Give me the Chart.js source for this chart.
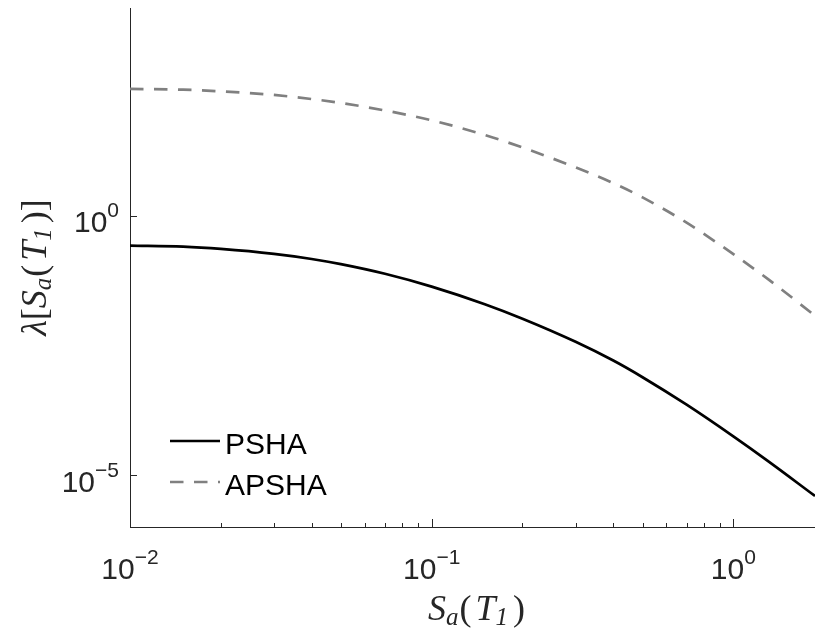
<!DOCTYPE html>
<html>
<head>
<meta charset="utf-8">
<script src="https://cdn.jsdelivr.net/npm/chart.js@4.4.1/dist/chart.umd.min.js"></script>
<style>
html, body { margin: 0; padding: 0; background: #fff; }
canvas { display: block; }
</style>
</head>
<body>
<canvas id="hazardChart" width="815" height="629"></canvas>
<script>
// spectral acceleration values (x) and annual rates for the two hazard curves
const saValues = [0.01, 0.015, 0.02, 0.03, 0.04, 0.05, 0.07, 0.1, 0.15, 0.2, 0.3, 0.4, 0.5, 0.7, 1, 1.3, 1.865];
const pshaRates = [0.264, 0.252, 0.228, 0.183, 0.146, 0.116, 0.0756, 0.0428, 0.0196, 0.0103, 0.0037, 0.00161, 7.69e-4, 2.27e-4, 5.57e-5, 1.88e-5, 3.96e-6];
const apshaRates = [276, 267, 248, 211, 176, 148, 106, 68.6, 35.7, 20.5, 8.49, 4.22, 2.24, 0.730, 0.181, 0.0603, 0.0118];
const seriesNames = ['PSHA', 'APSHA'];
const xTickExps = [-2, -1, 0];
const yTickExps = [0, -5];

const sans = '"Liberation Sans", Arial, Helvetica, sans-serif';
const serif = '"Liberation Serif", "Times New Roman", serif';
const axisColor = '#262626';

function toPoints(xs, ys) {
    return xs.map((v, i) => ({ x: v, y: ys[i] }));
}

// "10" with a raised exponent, like matlab tick labels
function drawPower(ctx, exp, x, baseline, align) {
    const expText = exp < 0 ? '\u2212' + (-exp) : String(exp);
    ctx.font = '30px ' + sans;
    const w1 = ctx.measureText('10').width;
    ctx.font = '21px ' + sans;
    const w2 = ctx.measureText(expText).width;
    const start = align === 'center' ? x - (w1 + w2) / 2 : x - (w1 + w2);
    ctx.textAlign = 'left';
    ctx.textBaseline = 'alphabetic';
    ctx.font = '30px ' + sans;
    ctx.fillText('10', start, baseline);
    ctx.font = '21px ' + sans;
    ctx.fillText(expText, start + w1, baseline - 15);
}

function pieceFont(p) {
    return (p.it ? 'italic ' : '') + p.size + 'px ' + serif;
}

// latex-ish label built from pieces, centred on cx
function drawMath(ctx, pieces, cx, baseline) {
    let total = 0;
    pieces.forEach(p => {
        ctx.font = pieceFont(p);
        p.w = ctx.measureText(p.t).width + (p.gap || 0);
        total += p.w;
    });
    let xx = cx - total / 2;
    ctx.textAlign = 'left';
    ctx.textBaseline = 'alphabetic';
    pieces.forEach(p => {
        ctx.font = pieceFont(p);
        ctx.fillText(p.t, xx, baseline + (p.dy || 0));
        xx += p.w;
    });
}

function saPieces() {
    return [
        { t: 'S', it: true, size: 36 },
        { t: 'a', it: true, size: 25, dy: 5, gap: 1 },
        { t: '(', size: 36, gap: 4 },
        { t: 'T', it: true, size: 36 },
        { t: '1', it: true, size: 25, dy: 5, gap: 5 },
        { t: ')', size: 36 }
    ];
}

const matlabAxes = {
    id: 'matlabAxes',
    afterDraw(chart) {
        const { ctx, chartArea: area, scales: { x, y } } = chart;
        ctx.save();

        // inward tick marks
        ctx.strokeStyle = axisColor;
        ctx.lineWidth = 1;
        ctx.beginPath();
        xTickExps.forEach(e => {
            for (let m = 1; m <= 9; m++) {
                const v = m * Math.pow(10, e);
                if (v < x.min - 1e-12 || v > x.max) continue;
                const px = Math.round(x.getPixelForValue(v)) + 0.5;
                const len = m === 1 ? 8 : 4;
                ctx.moveTo(px, area.bottom);
                ctx.lineTo(px, area.bottom - len);
            }
        });
        yTickExps.forEach(e => {
            const py = Math.round(y.getPixelForValue(Math.pow(10, e))) + 0.5;
            ctx.moveTo(area.left, py);
            ctx.lineTo(area.left + 7, py);
        });
        ctx.stroke();

        // tick labels
        ctx.fillStyle = axisColor;
        xTickExps.forEach(e => {
            drawPower(ctx, e, x.getPixelForValue(Math.pow(10, e)), area.bottom + 52, 'center');
        });
        yTickExps.forEach(e => {
            drawPower(ctx, e, area.left - 11, y.getPixelForValue(Math.pow(10, e)) + 16.5, 'right');
        });

        // axis titles
        drawMath(ctx, saPieces(), (area.left + area.right) / 2 + 4, area.bottom + 93);
        ctx.save();
        ctx.translate(46, (area.top + area.bottom) / 2);
        ctx.rotate(-Math.PI / 2);
        const yPieces = [{ t: '\u03bb', it: true, size: 36 }, { t: '[', size: 36 }]
            .concat(saPieces(), [{ t: ']', size: 36 }]);
        drawMath(ctx, yPieces, 0, 0);
        ctx.restore();

        // legend inside the axes, lower left
        const rows = [433, 474];
        chart.data.datasets.forEach((ds, i) => {
            const ly = area.top + rows[i];
            ctx.save();
            ctx.strokeStyle = ds.borderColor;
            ctx.lineWidth = ds.borderWidth;
            ctx.setLineDash(ds.borderDash || []);
            ctx.beginPath();
            ctx.moveTo(area.left + 40, ly);
            ctx.lineTo(area.left + 90, ly);
            ctx.stroke();
            ctx.restore();
            ctx.fillStyle = '#000';
            ctx.font = '30px ' + sans;
            ctx.textAlign = 'left';
            ctx.textBaseline = 'alphabetic';
            ctx.fillText(ds.label, area.left + 95, ly + 12.8);
        });

        ctx.restore();
    }
};

const ctx = document.getElementById('hazardChart').getContext('2d');
new Chart(ctx, {
    type: 'line',
    data: {
        datasets: [{
            label: seriesNames[0],
            data: toPoints(saValues, pshaRates),
            borderColor: '#000000',
            borderWidth: 2.7,
            pointRadius: 0,
            fill: false,
            cubicInterpolationMode: 'monotone'
        }, {
            label: seriesNames[1],
            data: toPoints(saValues, apshaRates),
            borderColor: '#808080',
            borderWidth: 2.7,
            borderDash: [13.5, 10.5],
            pointRadius: 0,
            fill: false,
            cubicInterpolationMode: 'monotone'
        }]
    },
    options: {
        responsive: false,
        animation: false,
        layout: {
            padding: { left: 130, top: 8, right: 0, bottom: 102 }
        },
        plugins: {
            legend: { display: false },
            tooltip: { enabled: false }
        },
        scales: {
            x: {
                type: 'logarithmic',
                min: 0.01,
                max: 1.865,
                grid: { display: false, drawTicks: false },
                ticks: { display: false },
                border: { display: true, color: axisColor, width: 1 }
            },
            y: {
                type: 'logarithmic',
                min: 1e-6,
                max: 1e4,
                grid: { display: false, drawTicks: false },
                ticks: { display: false },
                border: { display: true, color: axisColor, width: 1 }
            }
        }
    },
    plugins: [matlabAxes]
});
</script>
</body>
</html>
